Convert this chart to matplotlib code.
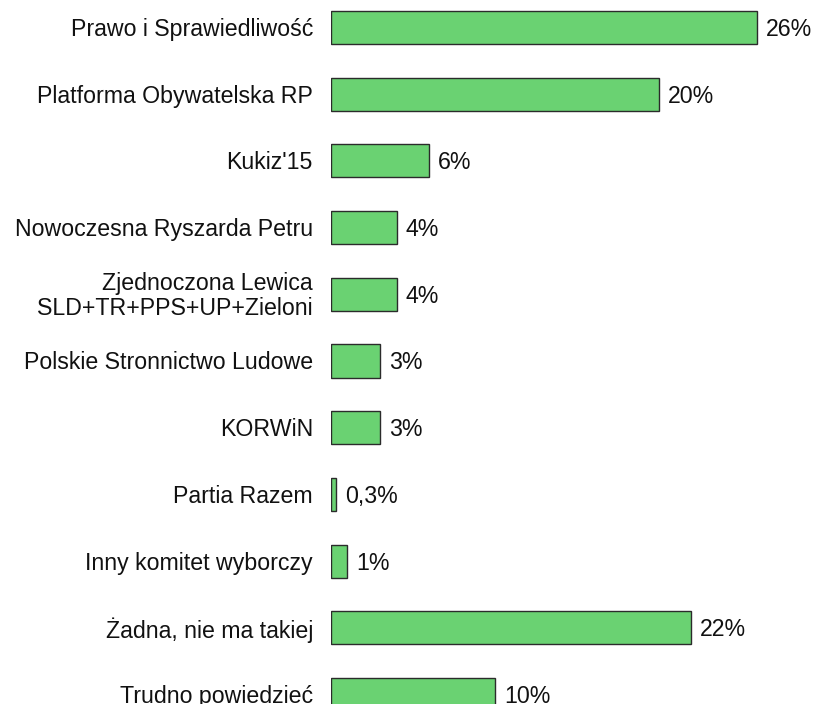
import matplotlib
matplotlib.use("Agg")
import matplotlib.pyplot as plt

categories = [
    "Prawo i Sprawiedliwość",
    "Platforma Obywatelska RP",
    "Kukiz'15",
    "Nowoczesna Ryszarda Petru",
    "Zjednoczona Lewica\nSLD+TR+PPS+UP+Zieloni",
    "Polskie Stronnictwo Ludowe",
    "KORWiN",
    "Partia Razem",
    "Inny komitet wyborczy",
    "Żadna, nie ma takiej",
    "Trudno powiedzieć",
]
values = [26, 20, 6, 4, 4, 3, 3, 0.3, 1, 22, 10]
value_labels = ["26%", "20%", "6%", "4%", "4%", "3%", "3%", "0,3%", "1%", "22%", "10%"]

plt.rcParams['font.family'] = ['Liberation Sans', 'DejaVu Sans']

W, H = 816, 704
fig = plt.figure(figsize=(W / 100, H / 100), dpi=100)
px_per_unit = 16.38
ax_left = 331
xmax = (W - ax_left) / px_per_unit
ax = fig.add_axes([ax_left / W, 0, (W - ax_left) / W, 1])

row = 66.7
y_top = -27.5 / row
y_bot = (H - 27.5) / row
ypos = list(range(len(categories)))

ax.barh(ypos, values, height=33 / row, color="#6AD272", edgecolor="#2b2b2b",
        linewidth=1.0, clip_on=True)
ax.set_xlim(0, xmax)
ax.set_ylim(y_bot, y_top)
ax.axis("off")

fs = 16.7
dy = 2 / row
for y, v, lab, cat in zip(ypos, values, value_labels, categories):
    ax.text(v + 9 / px_per_unit, y + dy, lab, va="center", ha="left", fontsize=fs,
            color="#111111", clip_on=False)
    ax.text(-18 / px_per_unit, y + dy, cat, va="center", ha="right", fontsize=fs,
            multialignment="right", color="#111111", clip_on=False, linespacing=1.1)

fig.savefig("out.png", dpi=100)
